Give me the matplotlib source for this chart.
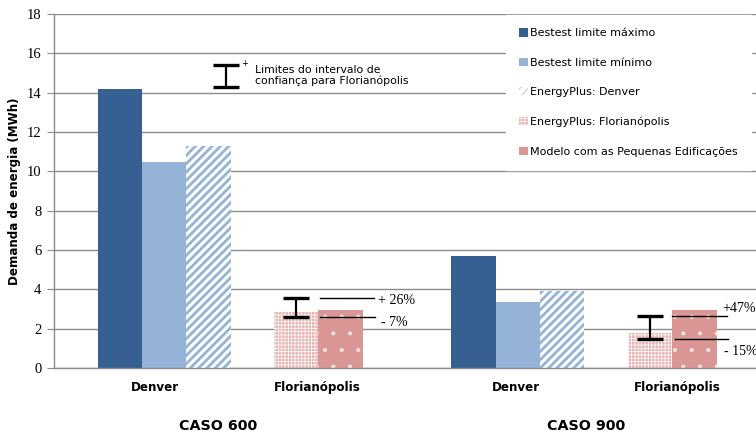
import matplotlib
matplotlib.use("Agg")
import matplotlib.pyplot as plt
from matplotlib.patches import Patch

# ---- data ----
groups = ["CASO 600", "CASO 900"]
categories = ["Denver", "Florianópolis", "Denver", "Florianópolis"]
bestest_max = [14.18, 5.70]
bestest_min = [10.47, 3.35]
ep_denver = [11.27, 3.92]
ep_floripa = [2.85, 1.78]
modelo = [2.95, 2.95]
ci_low = [2.60, 1.47]
ci_high = [3.56, 2.64]
pct_up = ["+ 26%", "+47%"]
pct_down = ["- 7%", "- 15%"]
yticks = [0, 2, 4, 6, 8, 10, 12, 14, 16, 18]

series_labels = ["Bestest limite máximo", "Bestest limite mínimo", "EnergyPlus: Denver",
                 "EnergyPlus: Florianópolis", "Modelo com as Pequenas Edificações"]

# ---- style ----
c_dark = "#366092"
c_light = "#95B3D7"
c_pink = "#D99694"
c_pink_light = "#E8B6B5"
grid_c = "#8C8C8C"

HLW_STRIPE = 2.0
HLW_FINE = 0.5
HLW_DOT = 0.6


def with_hlw(lw, fn, *a, **k):
    plt.rcParams["hatch.linewidth"] = lw
    out = fn(*a, **k)
    items = out if hasattr(out, "__iter__") else [out]
    for p in items:
        if hasattr(p, "set_hatch_linewidth"):
            p.set_hatch_linewidth(lw)
    return out


fig = plt.figure(figsize=(7.56, 4.34), dpi=100)
ax = fig.add_axes([54 / 756, 66 / 434, 702 / 756, 354 / 434])
ax.set_xlim(0, 15.8)
ax.set_ylim(0, 18)

# category positions (bar-width units)
denver_pos = [2.48, 10.44]
flor_pos = [5.95, 13.92]
w = 1.0

for i in range(2):
    d = denver_pos[i]
    ax.bar(d - w, bestest_max[i], w, color=c_dark, zorder=2)
    ax.bar(d, bestest_min[i], w, color=c_light, zorder=2)
    with_hlw(HLW_STRIPE, ax.bar, d + w, ep_denver[i], w, facecolor="white",
             edgecolor=c_light, hatch="////", linewidth=0, zorder=2)
    f = flor_pos[i]
    with_hlw(HLW_FINE, ax.bar, f - w / 2, ep_floripa[i], w, facecolor=c_pink_light,
             edgecolor="white", hatch="+++++", linewidth=0, zorder=2)
    with_hlw(HLW_DOT, ax.bar, f + w / 2, modelo[i], w, facecolor=c_pink,
             edgecolor="#F3E0E0", hatch=".", linewidth=0, zorder=2)

# confidence interval error bars
for i in range(2):
    f = flor_pos[i] - w / 2
    mid = (ci_low[i] + ci_high[i]) / 2
    half = (ci_high[i] - ci_low[i]) / 2
    ax.errorbar([f], [mid], yerr=[half], fmt="none", ecolor="black", elinewidth=1.6,
                capsize=9.7, capthick=2.4, zorder=4)

# percentage lines and labels
line_spans_up = [(5.99, 7.20), (13.90, 15.14)]
line_spans_dn = [(5.99, 7.22), (13.97, 15.18)]
for i in range(2):
    ax.plot(line_spans_up[i], [ci_high[i]] * 2, color="black", lw=1, zorder=4)
    ax.plot(line_spans_dn[i], [ci_low[i]] * 2, color="black", lw=1, zorder=4)
ax.text(7.30, 3.45, pct_up[0], family="Liberation Serif", fontsize=10, va="center", ha="left")
ax.text(7.37, 2.33, pct_down[0], family="Liberation Serif", fontsize=10, va="center", ha="left")
ax.text(15.05, 3.05, pct_up[1], family="Liberation Serif", fontsize=10, va="center", ha="left",
        clip_on=False)
ax.text(15.07, 0.82, pct_down[1], family="Liberation Serif", fontsize=10, va="center", ha="left",
        clip_on=False)

# legend-like annotation for the CI symbol
ax.errorbar([3.87], [14.85], yerr=[0.56], fmt="none", ecolor="black", elinewidth=1.6,
            capsize=9.4, capthick=2.4, zorder=4)
ax.text(4.29, 15.5, "+", fontsize=6, ha="center", va="center")
ax.text(4.52, 14.85, "Limites do intervalo de\nconfiança para Florianópolis", fontsize=7.8,
        ha="left", va="center", linespacing=1.05)

# axes styling
ax.set_yticks(yticks)
ax.set_yticklabels([str(v) for v in yticks], family="Liberation Serif", fontsize=10.5)
ax.tick_params(axis="y", direction="out", length=5, color=grid_c, pad=4)
ax.set_xticks([])
ax.yaxis.grid(True, color=grid_c, lw=1, zorder=0)
ax.set_axisbelow(True)
for s in ["top", "right"]:
    ax.spines[s].set_visible(False)
ax.spines["left"].set_color(grid_c)
ax.spines["bottom"].set_color(grid_c)
ax.spines["left"].set_linewidth(1)
ax.spines["bottom"].set_linewidth(1)

ax.set_ylabel("Demanda de energia (MWh)", fontsize=8.6, fontweight="bold", labelpad=4)

# category labels
cat_label_x = [2.28, 5.92, 10.40, 14.03]
for x, lab in zip(cat_label_x, categories):
    ax.text(x, -0.98, lab, ha="center", va="center", fontsize=8.6, fontweight="bold",
            transform=ax.transData, clip_on=False)
group_label_x = [3.69, 11.98]
for x, lab in zip(group_label_x, groups):
    ax.text(x, -2.97, lab, ha="center", va="center", fontsize=10.3, fontweight="bold",
            clip_on=False)

# legend
plt.rcParams["hatch.linewidth"] = HLW_STRIPE
h3 = Patch(facecolor="white", edgecolor=c_light, hatch="////", linewidth=0)
plt.rcParams["hatch.linewidth"] = HLW_FINE
h4 = Patch(facecolor=c_pink_light, edgecolor="white", hatch="+++++", linewidth=0)
handles = [
    Patch(facecolor=c_dark, edgecolor="none"),
    Patch(facecolor=c_light, edgecolor="none"),
    h3,
    h4,
    Patch(facecolor=c_pink, edgecolor=c_pink, linewidth=0),
]
for h, lw in ((h3, HLW_STRIPE), (h4, HLW_FINE)):
    if hasattr(h, "set_hatch_linewidth"):
        h.set_hatch_linewidth(lw)
leg = ax.legend(handles, series_labels, loc="upper left",
                bbox_to_anchor=(506 / 756, 1 - 15 / 434), bbox_transform=fig.transFigure,
                fontsize=8, frameon=True, fancybox=False, framealpha=1,
                edgecolor="white", facecolor="white", labelspacing=1.75,
                handlelength=0.75, handleheight=0.75, handletextpad=0.2, borderpad=1.2,
                borderaxespad=0)
leg.set_zorder(5)

fig.savefig("out.png", dpi=100)
